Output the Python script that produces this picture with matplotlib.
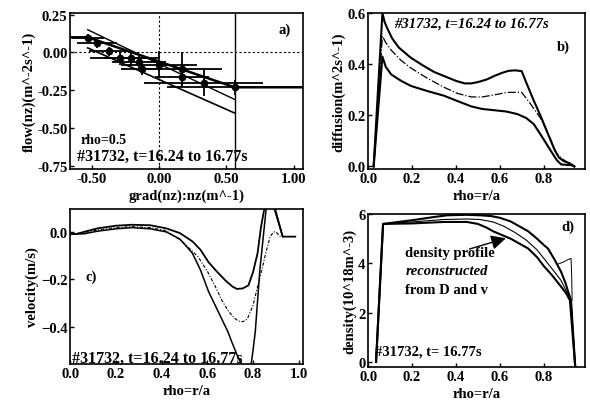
import matplotlib
matplotlib.use("Agg")
import matplotlib.pyplot as plt

plt.rcParams['font.family'] = ['Liberation Serif', 'DejaVu Serif']
plt.rcParams['font.weight'] = 'bold'
plt.rcParams['axes.labelweight'] = 'bold'
plt.rcParams['font.size'] = 10.5

# ---------------- panel a data ----------------
a_x = [-0.53, -0.46, -0.37, -0.29, -0.21, -0.15, -0.13, 0.0, 0.17, 0.17, 0.33, 0.56]
a_y = [0.095, 0.06, 0.007, -0.04, -0.04, -0.06, -0.11, -0.08, -0.11, -0.16, -0.20, -0.23]
a_xerr = [0.12, 0.15, 0.15, 0.22, 0.20, 0.20, 0.15, 0.28, 0.30, 0.20, 0.44, 0.50]
a_yerr = [0.03, 0.03, 0.03, 0.04, 0.04, 0.04, 0.04, 0.09, 0.11, 0.06, 0.09, 0.05]
a_fit_x = [-0.70, -0.53, 0.56, 1.10]
a_fit_y = [0.10, 0.10, -0.23, -0.23]
a_up_x = [-0.53, -0.25, 0.56]
a_up_y = [0.15, 0.03, -0.31]
a_lo_x = [-0.53, 0.56]
a_lo_y = [0.03, -0.40]
a_xticks = [-0.50, 0.00, 0.50, 1.00]
a_yticks = [0.25, 0.00, -0.25, -0.50, -0.75]

# ---------------- panel b data ----------------
b_up_x = [0.025, 0.065, 0.075, 0.09, 0.11, 0.14, 0.195, 0.25, 0.30, 0.345, 0.40, 0.44, 0.47, 0.50, 0.54,
          0.575, 0.61, 0.64, 0.67, 0.70, 0.72, 0.755, 0.79, 0.82, 0.85, 0.87, 0.89, 0.92, 0.94]
b_up_y = [0.0, 0.60, 0.565, 0.535, 0.50, 0.465, 0.425, 0.395, 0.37, 0.354, 0.335, 0.325, 0.325, 0.33, 0.34,
          0.354, 0.366, 0.374, 0.376, 0.373, 0.33, 0.258, 0.19, 0.127, 0.065, 0.035, 0.022, 0.012, 0.0]
b_mid_x = [0.025, 0.065, 0.08, 0.105, 0.15, 0.195, 0.27, 0.345, 0.41, 0.47, 0.52, 0.575, 0.635, 0.70,
           0.74, 0.785, 0.82, 0.86, 0.885, 0.91, 0.94]
b_mid_y = [0.0, 0.51, 0.485, 0.455, 0.415, 0.385, 0.345, 0.31, 0.285, 0.272, 0.272, 0.28, 0.29, 0.29,
           0.245, 0.19, 0.13, 0.05, 0.03, 0.015, 0.0]
b_lo_x = [0.025, 0.065, 0.08, 0.105, 0.15, 0.195, 0.27, 0.345, 0.41, 0.47, 0.52, 0.575, 0.63, 0.68,
          0.72, 0.755, 0.79, 0.83, 0.86, 0.88, 0.93, 0.94]
b_lo_y = [0.0, 0.43, 0.39, 0.36, 0.335, 0.315, 0.295, 0.277, 0.255, 0.235, 0.225, 0.22, 0.215, 0.205,
          0.19, 0.166, 0.12, 0.065, 0.025, 0.008, 0.005, 0.0]

# ---------------- panel c data ----------------
c_up_x = [0.0, 0.03, 0.06, 0.12, 0.20, 0.27, 0.35, 0.42, 0.48, 0.535, 0.57, 0.605, 0.64, 0.68, 0.71,
          0.73, 0.755, 0.78, 0.80, 0.82, 0.835, 0.85, 0.865, 0.89, 0.91, 0.93, 0.985]
c_up_y = [-0.01, -0.008, 0.0, 0.015, 0.026, 0.03, 0.028, 0.015, -0.005, -0.04, -0.075, -0.127, -0.165,
          -0.205, -0.23, -0.24, -0.238, -0.225, -0.17, -0.09, 0.02, 0.10, 0.13, 0.12, 0.05, -0.02, -0.02]
c_mid_x = [0.0, 0.06, 0.12, 0.20, 0.27, 0.35, 0.42, 0.49, 0.56, 0.60, 0.635, 0.665, 0.69, 0.715, 0.735,
           0.755, 0.775, 0.80, 0.82, 0.84, 0.855, 0.875, 0.89, 0.90, 0.92]
c_mid_y = [-0.01, -0.003, 0.008, 0.018, 0.022, 0.018, 0.005, -0.04, -0.105, -0.165, -0.23, -0.29, -0.33,
           -0.36, -0.375, -0.378, -0.367, -0.31, -0.23, -0.155, -0.093, -0.02, 0.0, 0.0, -0.02]
c_lo_x = [0.0, 0.06, 0.12, 0.20, 0.27, 0.35, 0.42, 0.48, 0.535, 0.57, 0.605, 0.635, 0.665, 0.69, 0.71,
          0.74, 0.77, 0.79, 0.80, 0.81, 0.82, 0.83, 0.845, 0.86, 0.88, 0.93]
c_lo_y = [-0.01, -0.008, 0.003, 0.013, 0.018, 0.013, 0.0, -0.03, -0.09, -0.16, -0.25, -0.31, -0.37,
          -0.42, -0.47, -0.54, -0.58, -0.57, -0.50, -0.42, -0.29, -0.16, -0.02, 0.12, 0.14, -0.02]

# ---------------- panel d data ----------------
d_up_x = [0.036, 0.068, 0.20, 0.30, 0.36, 0.45, 0.51, 0.56, 0.60, 0.65, 0.69, 0.73, 0.77, 0.80, 0.82,
          0.85, 0.88, 0.90, 0.91, 0.925, 0.945]
d_up_y = [0.0, 5.6, 5.75, 5.88, 5.95, 5.97, 5.95, 5.92, 5.85, 5.7, 5.5, 5.3, 5.0, 4.75, 4.6,
          4.15, 3.65, 3.2, 2.9, 2.5, -0.3]
d_mid_x = [0.036, 0.068, 0.20, 0.345, 0.45, 0.51, 0.57, 0.62, 0.67, 0.72, 0.77, 0.81, 0.85, 0.88,
           0.91, 0.925, 0.945]
d_mid_y = [0.0, 5.6, 5.68, 5.78, 5.8, 5.78, 5.68, 5.5, 5.25, 4.95, 4.55, 4.1, 3.65, 3.3,
           2.75, 2.5, -0.3]
d_lo_x = [0.036, 0.068, 0.20, 0.345, 0.45, 0.50, 0.54, 0.57, 0.61, 0.65, 0.69, 0.73, 0.77, 0.80,
          0.84, 0.88, 0.905, 0.92, 0.945]
d_lo_y = [0.0, 5.6, 5.62, 5.68, 5.68, 5.6, 5.45, 5.3, 5.15, 5.0, 4.8, 4.6, 4.25, 3.9,
          3.5, 3.05, 2.75, 2.5, -0.3]
d_meas_x = [0.86, 0.89, 0.91, 0.925, 0.928, 0.93]
d_meas_y = [3.95, 4.05, 4.15, 4.2, 3.5, 2.5]

rho_ticks = [0.0, 0.2, 0.4, 0.6, 0.8]

fig = plt.figure(figsize=(5.9, 4.02), dpi=100)

def style(ax):
    ax.tick_params(direction='in', length=3, width=1, top=False, right=False, pad=2)
    for s in ax.spines.values():
        s.set_linewidth(1.2)

# ---- a ----
axa = fig.add_axes([0.119, 0.577, 0.395, 0.388])
axa.set_xlim(-0.66, 1.07)
axa.set_ylim(-0.77, 0.26)
axa.axvline(0.0, color='k', lw=0.8, ls=(0, (2, 2)))
axa.axhline(0.0, color='k', lw=0.8, ls=(0, (2, 2)))
axa.axvline(0.56, color='k', lw=1.0)
axa.errorbar(a_x, a_y, xerr=a_xerr, yerr=a_yerr, fmt='o', color='k', ms=4.5, elinewidth=1.3, capsize=0)
axa.plot(a_fit_x, a_fit_y, color='k', lw=1.8)
axa.plot(a_up_x, a_up_y, color='k', lw=1.0)
axa.plot(a_lo_x, a_lo_y, color='k', lw=1.2)
axa.set_xticks(a_xticks)
axa.set_xticklabels(['-0.50', '0.00', '0.50', '1.00'])
axa.set_yticks(a_yticks)
axa.set_yticklabels(['0.25', '0.00', '-0.25', '-0.50', '-0.75'])
axa.set_xlabel('grad(nz):nz(m^-1)', labelpad=3)
axa.set_ylabel('flow(nz)(m^-2s^-1)', labelpad=1)
axa.text(0.93, 0.15, 'a)', ha='center', va='center')
axa.text(-0.58, -0.575, 'rho=0.5', ha='left', va='center', fontsize=10)
axa.text(-0.61, -0.68, '#31732, t=16.24 to 16.77s', ha='left', va='center', fontsize=11.5)
style(axa)

# ---- b ----
axb = fig.add_axes([0.624, 0.577, 0.368, 0.388])
axb.set_xlim(0.0, 0.99)
axb.set_ylim(-0.01, 0.6)
axb.plot(b_up_x, b_up_y, color='k', lw=1.5)
axb.plot(b_mid_x, b_mid_y, color='k', lw=0.9, ls='-.')
axb.plot(b_lo_x, b_lo_y, color='k', lw=1.5)
axb.set_xticks(rho_ticks)
axb.set_yticks([0.0, 0.2, 0.4, 0.6])
axb.set_xlabel('rho=r/a', labelpad=3)
axb.set_ylabel('diffusion(m^2s^-1)', labelpad=1)
axb.text(0.12, 0.56, '#31732, t=16.24 to 16.77s', ha='left', va='center', style='italic')
axb.text(0.89, 0.47, 'b)', ha='center', va='center')
style(axb)

# ---- c ----
axc = fig.add_axes([0.119, 0.092, 0.395, 0.386])
axc.set_xlim(0.0, 1.02)
axc.set_ylim(-0.556, 0.097)
axc.plot(c_up_x, c_up_y, color='k', lw=1.3)
axc.plot(c_mid_x, c_mid_y, color='k', lw=0.8, ls=(0, (3, 1.5, 1, 1.5)))
axc.plot(c_lo_x, c_lo_y, color='k', lw=1.1)
axc.set_xticks([0.0, 0.2, 0.4, 0.6, 0.8, 1.0])
axc.set_yticks([0.0, -0.2, -0.4])
axc.set_xlabel('rho=r/a', labelpad=3)
axc.set_ylabel('velocity(m/s)', labelpad=1)
axc.text(0.09, -0.185, 'c)', ha='center', va='center')
axc.text(0.01, -0.53, '#31732, t=16.24 to 16.77s', ha='left', va='center', fontsize=11.5)
style(axc)

# ---- d ----
axd = fig.add_axes([0.624, 0.085, 0.368, 0.38])
axd.set_xlim(0.0, 0.99)
axd.set_ylim(-0.2, 6.0)
axd.plot(d_up_x, d_up_y, color='k', lw=1.5)
axd.plot(d_mid_x, d_mid_y, color='k', lw=0.8)
axd.plot(d_lo_x, d_lo_y, color='k', lw=1.5)
axd.plot(d_meas_x, d_meas_y, color='k', lw=0.7)
axd.set_xticks(rho_ticks)
axd.set_yticks([0, 2, 4, 6])
axd.set_xlabel('rho=r/a', labelpad=3)
axd.set_ylabel('density(10^18m^-3)', labelpad=1)
axd.annotate('', xy=(0.64, 5.05), xytext=(0.45, 4.55),
             arrowprops=dict(arrowstyle='-|>', color='k', lw=1.0, mutation_scale=22))
axd.text(0.17, 4.45, 'density profile', ha='left', va='center')
axd.text(0.17, 3.7, 'reconstructed', ha='left', va='center', style='italic')
axd.text(0.17, 2.95, 'from D and v', ha='left', va='center')
axd.text(0.91, 5.5, 'd)', ha='center', va='center')
axd.text(0.03, 0.45, '#31732, t= 16.77s', ha='left', va='center')
style(axd)

fig.savefig('out.png', dpi=100)
